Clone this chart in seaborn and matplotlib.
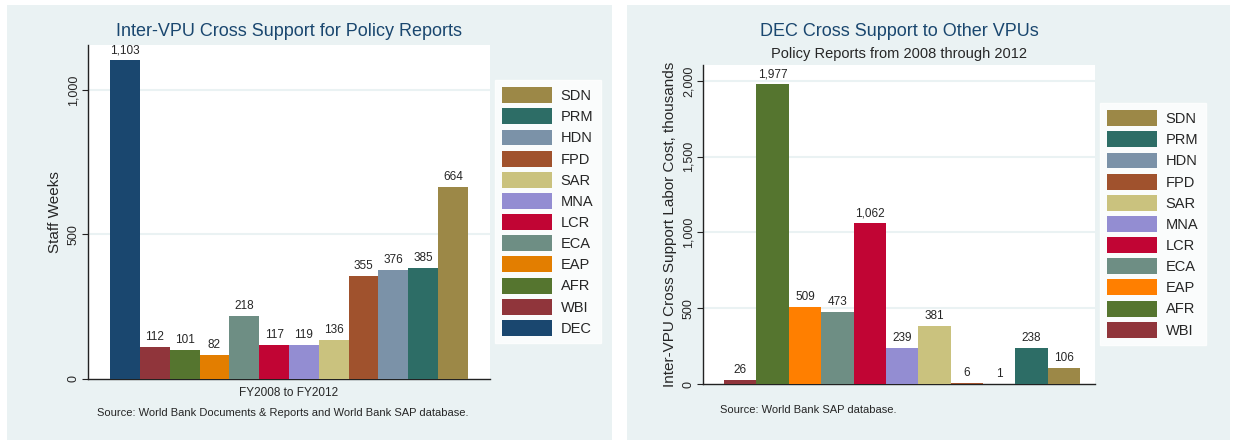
import seaborn as sns
import matplotlib.pyplot as plt
from matplotlib.patches import Rectangle, Patch

# left panel: staff weeks
left_units = ["DEC", "WBI", "AFR", "EAP", "ECA", "LCR", "MNA", "SAR", "FPD", "HDN", "PRM", "SDN"]
left_weeks = [1103, 112, 101, 82, 218, 117, 119, 136, 355, 376, 385, 664]

# right panel: labor cost, thousands
right_units = ["WBI", "AFR", "EAP", "ECA", "LCR", "MNA", "SAR", "FPD", "HDN", "PRM", "SDN"]
right_cost = [26, 1977, 509, 473, 1062, 239, 381, 6, 1, 238, 106]

colors = {
    "DEC": "#1a476f", "WBI": "#90353b", "AFR": "#55752f", "EAP": "#e37e00",
    "ECA": "#6e8e84", "LCR": "#c10534", "MNA": "#938dd2", "SAR": "#cac27e",
    "FPD": "#a0522d", "HDN": "#7b92a8", "PRM": "#2d6d66", "SDN": "#9c8847",
}
colors_right = dict(colors, EAP="#ff7f00")

sns.set_style("white")
plt.rcParams["font.family"] = ["Liberation Sans", "DejaVu Sans"]

W, H = 1233, 445
fig = plt.figure(figsize=(W / 100, H / 100), dpi=100)
fig.patch.set_facecolor("white")
bg = "#eaf2f3"
for x0, x1 in [(7, 612), (627, 1230)]:
    fig.patches.append(Rectangle((x0 / W, 5 / H), (x1 - x0) / W, 435 / H,
                                 transform=fig.transFigure, facecolor=bg,
                                 edgecolor="none", zorder=-10))


def fx(px):
    return px / W


def fy(py):
    return 1 - py / H


def panel(ax, units, vals, pal, ymax, ticks, xpad):
    sns.barplot(x=units, y=vals, hue=units, palette=pal, width=1.0,
                legend=False, saturation=1, linewidth=0, ax=ax, zorder=3)
    ax.set_facecolor("white")
    ax.set_xlim(-0.5 - xpad[0], len(units) - 0.5 + xpad[1])
    ax.set_ylim(0, ymax)
    ax.set_yticks(ticks)
    ax.set_yticklabels([f"{t:,}" for t in ticks], rotation=90, va="center", fontsize=9)
    ax.set_xticks([])
    for t in ticks[1:]:
        ax.axhline(t, color=bg, lw=1.5, zorder=1)
    for s in ["top", "right"]:
        ax.spines[s].set_visible(False)
    for s in ["left", "bottom"]:
        ax.spines[s].set_color("#222222")
        ax.spines[s].set_linewidth(1.0)
    ax.tick_params(axis="y", length=4, color="#222222", pad=2, left=True)
    for i, v in enumerate(vals):
        ax.text(i, v + ymax * 0.012, f"{v:,}", ha="center", va="bottom", fontsize=8.5)


ax1 = fig.add_axes([fx(88), fy(379), fx(490 - 88), (379 - 45) / H])
panel(ax1, left_units, left_weeks, colors, 1155, [0, 500, 1000], (0.74, 0.74))
ax1.set_ylabel("Staff Weeks", fontsize=11)

ax2 = fig.add_axes([fx(703), fy(384), fx(1095 - 703), (384 - 65) / H])
panel(ax2, right_units, right_cost, colors_right, 2105, [0, 500, 1000, 1500, 2000], (0.65, 0.46))
ax2.set_ylabel("Inter-VPU Cross Support Labor Cost, thousands", fontsize=11)

# titles and notes
fig.text(fx(289), fy(32), "Inter-VPU Cross Support for Policy Reports",
         ha="center", va="center", fontsize=13, color="#1a476f")
fig.text(fx(289), fy(393), "FY2008 to FY2012", ha="center", va="center", fontsize=8.5)
fig.text(fx(97), fy(413), "Source: World Bank Documents & Reports and World Bank SAP database.",
         ha="left", va="center", fontsize=8)
fig.text(fx(899), fy(32), "DEC Cross Support to Other VPUs",
         ha="center", va="center", fontsize=13, color="#1a476f")
fig.text(fx(899), fy(54), "Policy Reports from 2008 through 2012",
         ha="center", va="center", fontsize=10.5)
fig.text(fx(720), fy(410), "Source: World Bank SAP database.",
         ha="left", va="center", fontsize=8)

# legends (reversed order, like the original)
for units, pal, anchor in [(left_units, colors, (fx(495), fy(80))),
                           (right_units, colors_right, (fx(1100), fy(103)))]:
    handles = [Patch(facecolor=pal[u], edgecolor="none", label=u) for u in reversed(units)]
    leg = fig.legend(handles=handles, loc="upper left", bbox_to_anchor=anchor,
                     frameon=True, fontsize=10.5, handlelength=3.4, handleheight=1.3,
                     labelspacing=0.36, borderpad=0.5, handletextpad=0.6,
                     borderaxespad=0, fancybox=False)
    leg.get_frame().set_facecolor("white")
    leg.get_frame().set_edgecolor("white")

fig.savefig("out.png", dpi=100, facecolor="white")
